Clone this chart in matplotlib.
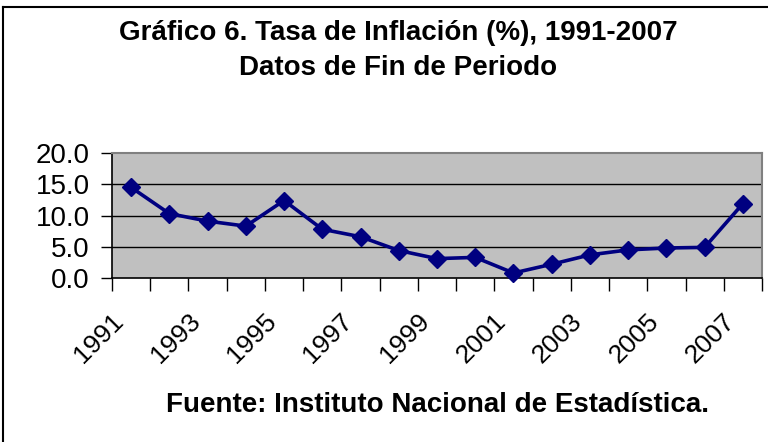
import matplotlib
matplotlib.use("Agg")
import matplotlib.pyplot as plt
from matplotlib.lines import Line2D
import numpy as np

years = [1991, 1992, 1993, 1994, 1995, 1996, 1997, 1998, 1999, 2000,
         2001, 2002, 2003, 2004, 2005, 2006, 2007]
inflation = [14.5, 10.3, 9.1, 8.3, 12.4, 7.8, 6.6, 4.4, 3.1, 3.3,
             0.8, 2.2, 3.7, 4.5, 4.8, 4.9, 11.9]
ytick_vals = [0.0, 5.0, 10.0, 15.0, 20.0]
title_lines = ["Gráfico 6. Tasa de Inflación (%), 1991-2007", "Datos de Fin de Periodo"]
source = "Fuente: Instituto Nacional de Estadística."

plt.rcParams['font.family'] = ['Liberation Sans', 'DejaVu Sans']

W, H = 768, 442
fig = plt.figure(figsize=(W / 100, H / 100), dpi=100)

# axes placement in pixels
left, right, top, bottom = 112, 762, 153, 278
ax = fig.add_axes([left / W, 1 - bottom / H, (right - left) / W, (bottom - top) / H])
ax.set_facecolor('#C0C0C0')

n = len(years)
x = np.arange(n)
ax.plot(x, inflation, color='#000080', lw=2.6, marker='D', markersize=9.5,
        markerfacecolor='#000080', markeredgecolor='#000080', zorder=3, clip_on=False)

ax.set_xlim(-0.5, n - 0.5)
ax.set_ylim(0, 20)
ax.set_yticks(ytick_vals)
ax.set_yticklabels([f"{v:.1f}" for v in ytick_vals], fontsize=20)
for v in ytick_vals[1:-1]:
    ax.axhline(v, color='black', lw=1.0, zorder=1)

# category boundary ticks
ax.set_xticks(np.arange(-0.5, n + 0.5, 1.0), minor=False)
ax.set_xticklabels([])
ax.tick_params(axis='x', length=9, width=1, direction='out', color='black')
ax.tick_params(axis='y', length=8, width=1, direction='out', color='black', pad=8)

for i, yr in enumerate(years):
    if i % 2 == 0:
        ax.text(i - 0.52, -4.9, str(yr), rotation=45, ha='right', va='top',
                fontsize=19, rotation_mode='anchor')

for side in ['top', 'right']:
    ax.spines[side].set_color('#808080')
    ax.spines[side].set_linewidth(1.5)
for side in ['left', 'bottom']:
    ax.spines[side].set_color('black')
    ax.spines[side].set_linewidth(1.2)

fig.text(398 / W, 1 - 33 / H, title_lines[0], ha='center', va='center',
         fontsize=20, fontweight='bold')
fig.text(398 / W, 1 - 68 / H, title_lines[1], ha='center', va='center',
         fontsize=20, fontweight='bold')
fig.text(437 / W, 1 - 405 / H, source, ha='center', va='center',
         fontsize=20, fontweight='bold')

# outer frame (top and left visible)
fig.add_artist(Line2D([3 / W, 1], [1 - 7 / H, 1 - 7 / H], color='black', lw=1.5,
                      transform=fig.transFigure))
fig.add_artist(Line2D([3 / W, 3 / W], [0, 1 - 7 / H], color='black', lw=1.5,
                      transform=fig.transFigure))

fig.savefig('out.png', dpi=100)
